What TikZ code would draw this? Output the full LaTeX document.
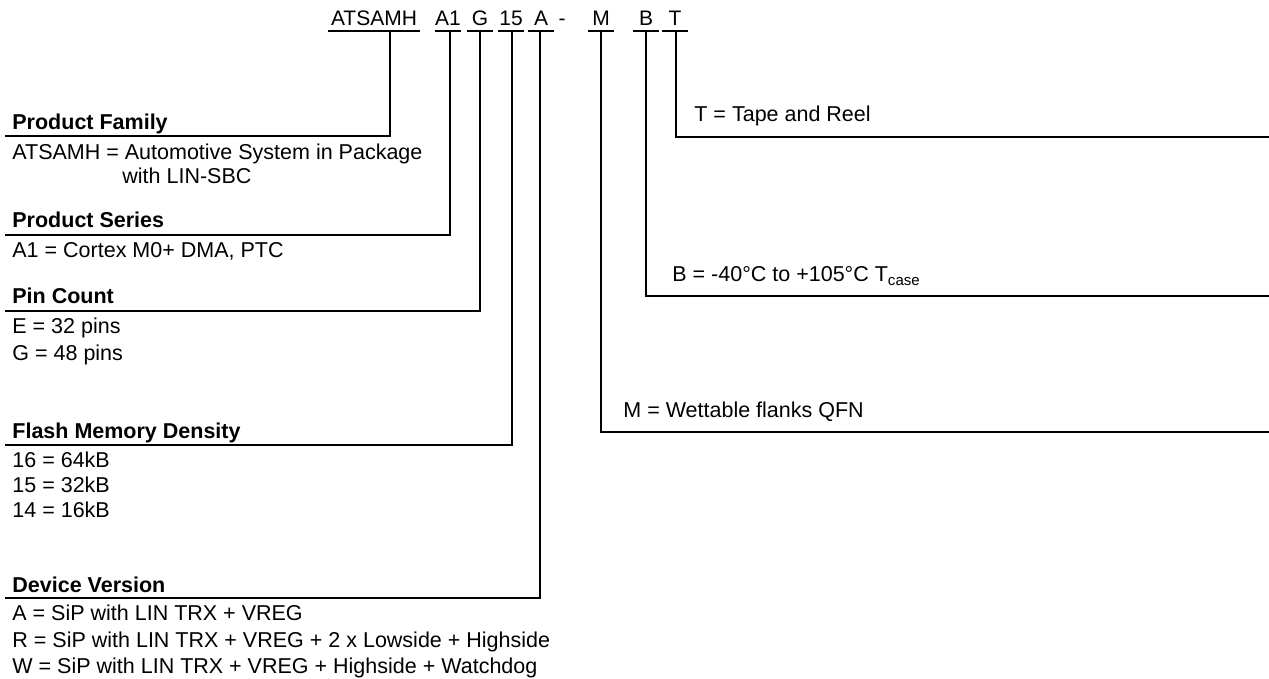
\documentclass[tikz,border=0pt]{standalone}
\usepackage{fontspec}
\setmainfont{Liberation Sans}
\begin{document}
\begin{tikzpicture}[x=0.5pt,y=-0.5pt,
	code/.style={anchor=south,inner xsep=0pt,inner ysep=2.5pt,text depth=0pt,font=\fontsize{10.5}{12}\selectfont},
	txt/.style={anchor=base west,inner sep=0pt,font=\fontsize{10.75}{13}\selectfont},
	head/.style={txt,font=\fontsize{10.75}{13}\selectfont\bfseries},
	lead/.style={line width=1pt}]
	\useasboundingbox (0,0) rectangle (1269,679);
	% ordering code
	\node[code,minimum width=46pt] (fam) at (374,31) {ATSAMH};
	\node[code,minimum width=13pt] (ser) at (448,31) {A1};
	\node[code,minimum width=12.5pt] (pin) at (480,31) {G};
	\node[code,minimum width=12.5pt] (flash) at (511,31) {15};
	\node[code,minimum width=12.5pt] (ver) at (541,31) {A};
	\node[code] (dash) at (562,31) {-};
	\node[code,minimum width=12.5pt] (pkg) at (601,31) {M};
	\node[code,minimum width=12.5pt] (temp) at (646,31) {B};
	\node[code,minimum width=12.5pt] (tape) at (675,31) {T};
	\foreach \n in {fam,ser,pin,flash,ver,pkg,temp,tape}
		\draw[lead] (\n.south west) -- (\n.south east);
	% line ends
	\coordinate (famend) at (5,136);
	\coordinate (serend) at (5,235);
	\coordinate (pinend) at (5,311);
	\coordinate (flashend) at (5,445);
	\coordinate (verend) at (5,598);
	\coordinate (pkgend) at (1269,432);
	\coordinate (tempend) at (1269,296);
	\coordinate (tapeend) at (1269,137);
	\draw[lead] ([xshift=8pt]fam.south) |- (famend);
	\draw[lead] ([xshift=1pt]ser.south) |- (serend);
	\draw[lead] (pin.south) |- (pinend);
	\draw[lead] ([xshift=0.5pt]flash.south) |- (flashend);
	\draw[lead] ([xshift=-0.5pt]ver.south) |- (verend);
	\draw[lead] (pkg.south) |- (pkgend);
	\draw[lead] (temp.south) |- (tempend);
	\draw[lead] ([xshift=0.5pt]tape.south) |- (tapeend);
	% left side
	\node[head] (famhead) at (12,130) {Product Family};
	\node[txt] (famA) at (12,160) {ATSAMH = Automotive System in Package};
	\node[txt] (famB) at (122,184) {with LIN-SBC};
	\node[head] (serhead) at (12,228) {Product Series};
	\node[txt] (serA) at (12,258) {A1 = Cortex M0+ DMA, PTC};
	\node[head] (pinhead) at (12,304) {Pin Count};
	\node[txt] (pinE) at (12,334) {E = 32 pins};
	\node[txt] (pinG) at (12,360) {G = 48 pins};
	\node[head] (flashhead) at (12,438) {Flash Memory Density};
	\node[txt] (flash16) at (12,467) {16 = 64kB};
	\node[txt] (flash15) at (12,492) {15 = 32kB};
	\node[txt] (flash14) at (12,517) {14 = 16kB};
	\node[head] (verhead) at (12,592) {Device Version};
	\node[txt] (verA) at (12,620) {A = SiP with LIN TRX + VREG};
	\node[txt] (verR) at (12,647) {R = SiP with LIN TRX + VREG + 2 x Lowside + Highside};
	\node[txt] (verW) at (12,673) {W = SiP with LIN TRX + VREG + Highside + Watchdog};
	% right side
	\node[txt] (tapeT) at (694,122) {T = Tape and Reel};
	\node[txt] (tempB) at (672,282) {B = -40°C to +105°C T\textsubscript{case}};
	\node[txt] (pkgM) at (623,417) {M = Wettable flanks QFN};
\end{tikzpicture}
\end{document}
